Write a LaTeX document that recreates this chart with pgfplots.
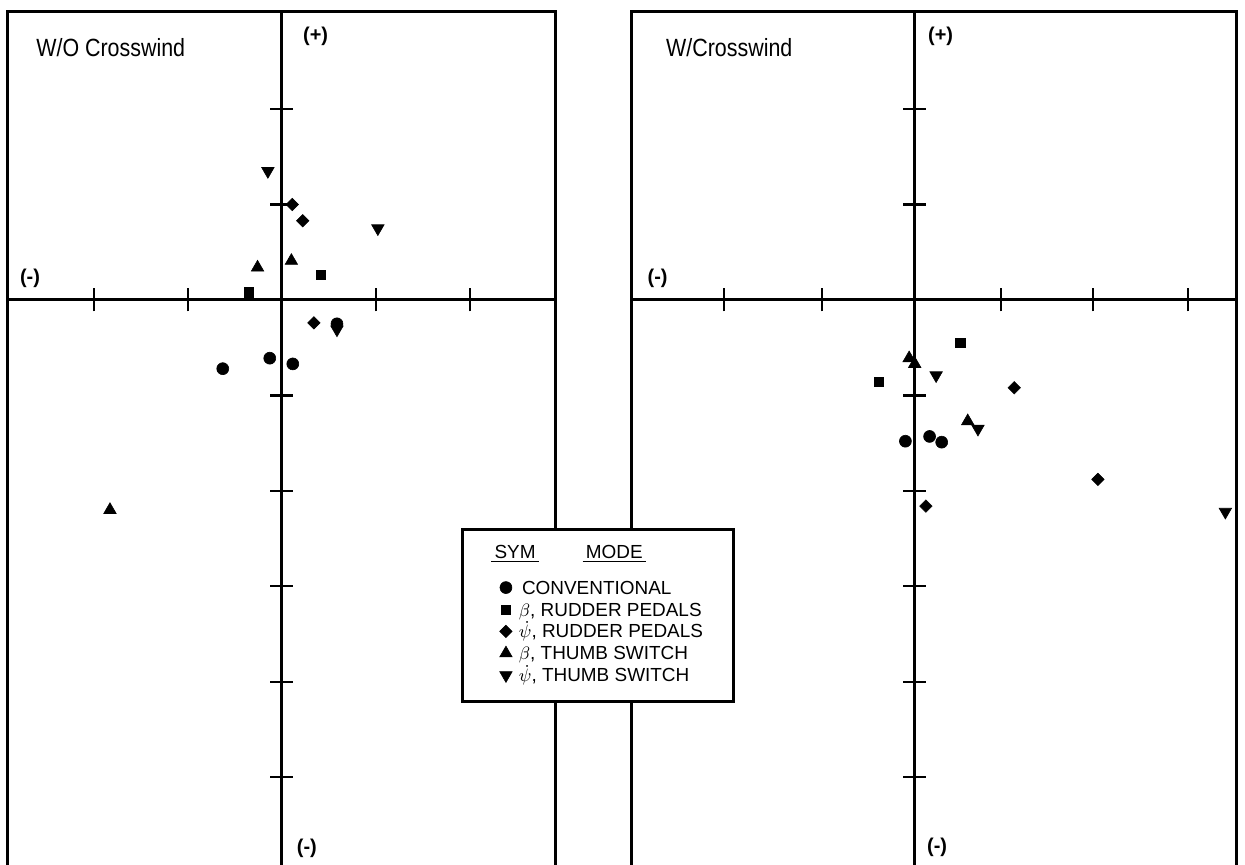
\documentclass[border=0pt]{standalone}
\usepackage{pgfplots}
\pgfplotsset{compat=1.18}
\usepackage{fontspec}
\setmainfont{Liberation Sans}
\newfontfamily\condfont{Liberation Sans}[FakeStretch=0.86]
\pgfplotsset{
  quad/.style={
    scale only axis, height=426.65bp,
    ymin=-5.92, ymax=3.02,
    axis lines=middle,
    axis line style={line width=1.5bp, -},
    every inner x axis line/.append style={-},
    every inner y axis line/.append style={-},
    ytick={-5,-4,-3,-2,-1,1,2},
    xticklabels={}, yticklabels={},
    major tick length=11.5bp, tick align=center,
    tick style={line width=1.2bp, black},
    clip=false,
  },
  limg/.style={legend image code/.code={\path[draw=none,fill=none] (0pt,0.7pt) rectangle (13pt,0.9pt); \draw[mark repeat=2,mark phase=2,##1] plot coordinates {(0pt,0.8pt) (6.5pt,0.8pt) (13pt,0.8pt)};}},
  sC/.style={only marks, mark=*, mark size=3pt, mark options={fill=black, draw=black, line width=0.3pt}, limg},
  sS/.style={only marks, mark=square*, mark size=2.3pt, mark options={fill=black, draw=black, line width=0.3pt}, limg},
  sD/.style={only marks, mark=square*, mark size=2.2pt, mark options={rotate=45, fill=black, draw=black, line width=0.3pt}, limg},
  sU/.style={only marks, mark=triangle*, mark size=3.6pt, mark options={fill=black, draw=black, line width=0.3pt}, limg},
  sV/.style={only marks, mark=triangle*, mark size=3.6pt, mark options={rotate=180, fill=black, draw=black, line width=0.3pt}, limg},
}
\tikzset{
  ttl/.style={anchor=west, inner sep=0pt, font=\condfont\fontsize{12.5}{14}\selectfont},
  sgn/.style={inner sep=0pt, font=\bfseries\fontsize{10}{12}\selectfont},
}
\begin{document}
\begin{tikzpicture}
\path[use as bounding box] (0,0) rectangle (622.5bp,432.5bp);
% right panel (drawn first so that the legend lies on top)
\begin{axis}[quad, at={(315.85bp,0)}, anchor=south west, width=302.4bp,
  xmin=-3.043, xmax=3.46, xtick={-2.05,-1,0.93,1.92,2.94}]
\addplot[sC] coordinates {(-0.10,-1.48) (0.16,-1.43) (0.29,-1.49)};
\addplot[sS] coordinates {(0.49,-0.45) (-0.39,-0.86)};
\addplot[sD] coordinates {(1.07,-0.92) (1.97,-1.88) (0.12,-2.16)};
\addplot[sU] coordinates {(-0.06,-0.61) (0.0,-0.67) (0.57,-1.27)};
\addplot[sV] coordinates {(0.23,-0.79) (0.68,-1.35) (3.34,-2.22)};
\draw[line width=1.5bp] (rel axis cs:0,0) -- (rel axis cs:0,1) -- (rel axis cs:1,1) -- (rel axis cs:1,0);
\node[ttl] at (rel axis cs:0.0564,0.9575) {W/Crosswind};
\node[sgn] at (rel axis cs:0.5107,0.9707) {(+)};
\node[sgn] at (rel axis cs:0.0428,0.688) {(-)};
\node[sgn] at (rel axis cs:0.505,0.021) {(-)};
\end{axis}
% left panel
\begin{axis}[quad, at={(3.85bp,0)}, anchor=south west, width=274bp,
  xmin=-2.918, xmax=2.912, xtick={-2,-1,1,2},
  legend style={at={(0.8272,0.3949)}, anchor=north west, draw=black, line width=1.5bp, fill=white,
    font=\fontsize{9.5}{11}\selectfont, inner xsep=15.25bp, inner ysep=7.1bp,
    nodes={inner sep=0pt, text height=8pt, text depth=3pt}, row sep=0pt, column sep=0pt},
  legend cell align=left]
\addlegendimage{empty legend}
\addlegendentry[text height=7.3pt, text depth=10pt]{\hspace*{-13.75bp}\underline{\,SYM\,}\hspace{22bp}\underline{\,MODE\,}}
\addplot[sC] coordinates {(-0.63,-0.72) (-0.13,-0.61) (0.115,-0.67) (0.585,-0.25)};
\addlegendentry{\,CONVENTIONAL}
\addplot[sS] coordinates {(0.41,0.26) (-0.35,0.08)};
\addlegendentry{$\beta$, RUDDER PEDALS}
\addplot[sD] coordinates {(0.11,1.0) (0.22,0.83) (0.34,-0.24)};
\addlegendentry{$\smash{\dot{\psi}}$, RUDDER PEDALS}
\addplot[sU] coordinates {(-0.26,0.34) (0.10,0.41) (-1.83,-2.2)};
\addlegendentry{$\beta$, THUMB SWITCH}
\addplot[sV] coordinates {(-0.15,1.35) (1.02,0.75) (0.585,-0.31)};
\addlegendentry{$\smash{\dot{\psi}}$, THUMB SWITCH}
\draw[line width=1.5bp] (rel axis cs:0,0) -- (rel axis cs:0,1) -- (rel axis cs:1,1) -- (rel axis cs:1,0);
\node[ttl] at (rel axis cs:0.0516,0.9575) {W/O Crosswind};
\node[sgn] at (rel axis cs:0.562,0.9707) {(+)};
\node[sgn] at (rel axis cs:0.0407,0.688) {(-)};
\node[sgn] at (rel axis cs:0.546,0.02) {(-)};
\end{axis}
\end{tikzpicture}
\end{document}
